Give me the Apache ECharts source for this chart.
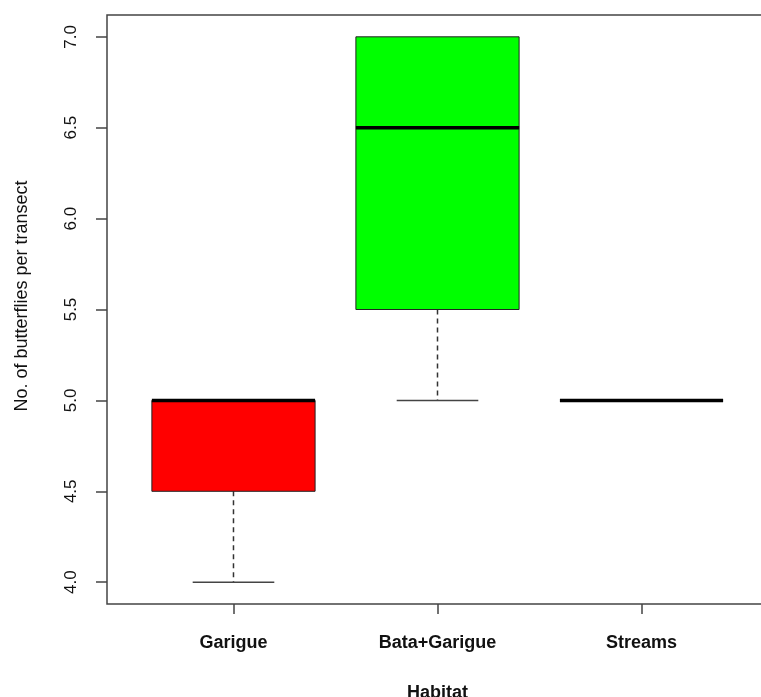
<!DOCTYPE html>
<html>
<head>
<meta charset="utf-8">
<script src="https://cdn.jsdelivr.net/npm/echarts@6/dist/echarts.min.js"></script>
<style>html,body{margin:0;padding:0;background:#fff}#c{width:761px;height:697px}</style>
</head>
<body>
<div id="c"></div>
<script>
// Data
var categories = ['Garigue', 'Bata+Garigue', 'Streams'];
var lowWhisker = [4.0, 5.0, 5.0];
var lowerQuartile = [4.5, 5.5, 5.0];
var medians = [5.0, 6.5, 5.0];
var upperQuartile = [5.0, 7.0, 5.0];
var highWhisker = [5.0, 7.0, 5.0];
var boxColors = ['#ff0000', '#00ff00', '#ffffff'];
var yTicks = [4.0, 4.5, 5.0, 5.5, 6.0, 6.5, 7.0];

var data = categories.map(function (c, i) {
  return [i + 1, lowWhisker[i], lowerQuartile[i], medians[i], upperQuartile[i], highWhisker[i], i];
});

var chart = echarts.init(document.getElementById('c'));
chart.setOption({
  animation: false,
  backgroundColor: '#ffffff',
  grid: {
    left: 107, top: 15, right: -7, bottom: 93,
    show: true, borderColor: '#444', borderWidth: 1.5,
    backgroundColor: 'transparent',
    containLabel: false, outerBoundsMode: 'none'
  },
  xAxis: {
    type: 'value', min: 0.38, max: 3.62, interval: 1,
    name: 'Habitat', nameLocation: 'middle', nameGap: 80,
    nameTextStyle: { fontFamily: 'Liberation Sans', fontWeight: 'bold', fontSize: 18, color: '#111' },
    axisLine: { show: false },
    splitLine: { show: false },
    axisTick: { show: true, length: 10, lineStyle: { color: '#444', width: 1.5 }, customValues: [1, 2, 3] },
    axisLabel: {
      customValues: [1, 2, 3],
      formatter: function (v) { return categories[Math.round(v) - 1] || ''; },
      margin: 30, fontFamily: 'Liberation Sans', fontWeight: 'bold', fontSize: 18, color: '#111'
    }
  },
  yAxis: {
    type: 'value', min: 3.88, max: 7.12,
    axisLine: { show: false },
    splitLine: { show: false },
    axisTick: { show: true, length: 11, lineStyle: { color: '#444', width: 1.5 }, customValues: yTicks },
    axisLabel: {
      customValues: yTicks, rotate: 90, margin: 27,
      formatter: function (v) { return v.toFixed(1); },
      fontFamily: 'Liberation Sans', fontSize: 17, color: '#111'
    }
  },
  graphic: [{
    type: 'text', x: 22, y: 296, rotation: Math.PI / 2,
    style: {
      text: 'No. of butterflies per transect', fontFamily: 'Liberation Sans', fontSize: 18,
      fill: '#111', align: 'center', verticalAlign: 'middle'
    }
  }],
  series: [{
    type: 'custom',
    data: data,
    encode: { x: 0, y: [1, 2, 3, 4, 5] },
    renderItem: function (params, api) {
      var x = api.value(0);
      var idx = api.value(6);
      var half = api.size([0.8, 0])[0] / 2;
      var staple = half / 2;
      var pMin = api.coord([x, api.value(1)]);
      var pQ1 = api.coord([x, api.value(2)]);
      var pMed = api.coord([x, api.value(3)]);
      var pQ3 = api.coord([x, api.value(4)]);
      var pMax = api.coord([x, api.value(5)]);
      var cx = pMed[0];
      var children = [];
      if (pMin[1] !== pQ1[1]) {
        children.push({ type: 'line', shape: { x1: cx, y1: pQ1[1], x2: cx, y2: pMin[1] },
          style: { stroke: '#333', lineWidth: 1.5, lineDash: [5, 4] } });
        children.push({ type: 'line', shape: { x1: cx - staple, y1: pMin[1], x2: cx + staple, y2: pMin[1] },
          style: { stroke: '#444', lineWidth: 1.5 } });
      }
      if (pMax[1] !== pQ3[1]) {
        children.push({ type: 'line', shape: { x1: cx, y1: pQ3[1], x2: cx, y2: pMax[1] },
          style: { stroke: '#333', lineWidth: 1.5, lineDash: [5, 4] } });
        children.push({ type: 'line', shape: { x1: cx - staple, y1: pMax[1], x2: cx + staple, y2: pMax[1] },
          style: { stroke: '#444', lineWidth: 1.5 } });
      }
      if (pQ1[1] !== pQ3[1]) {
        children.push({ type: 'rect', shape: { x: cx - half, y: pQ3[1], width: half * 2, height: pQ1[1] - pQ3[1] },
          style: { fill: boxColors[idx], stroke: '#222', lineWidth: 1 } });
      }
      children.push({ type: 'line', shape: { x1: cx - half, y1: pMed[1], x2: cx + half, y2: pMed[1] },
        style: { stroke: '#000', lineWidth: 3.5 } });
      return { type: 'group', children: children };
    }
  }]
});
</script>
</body>
</html>
